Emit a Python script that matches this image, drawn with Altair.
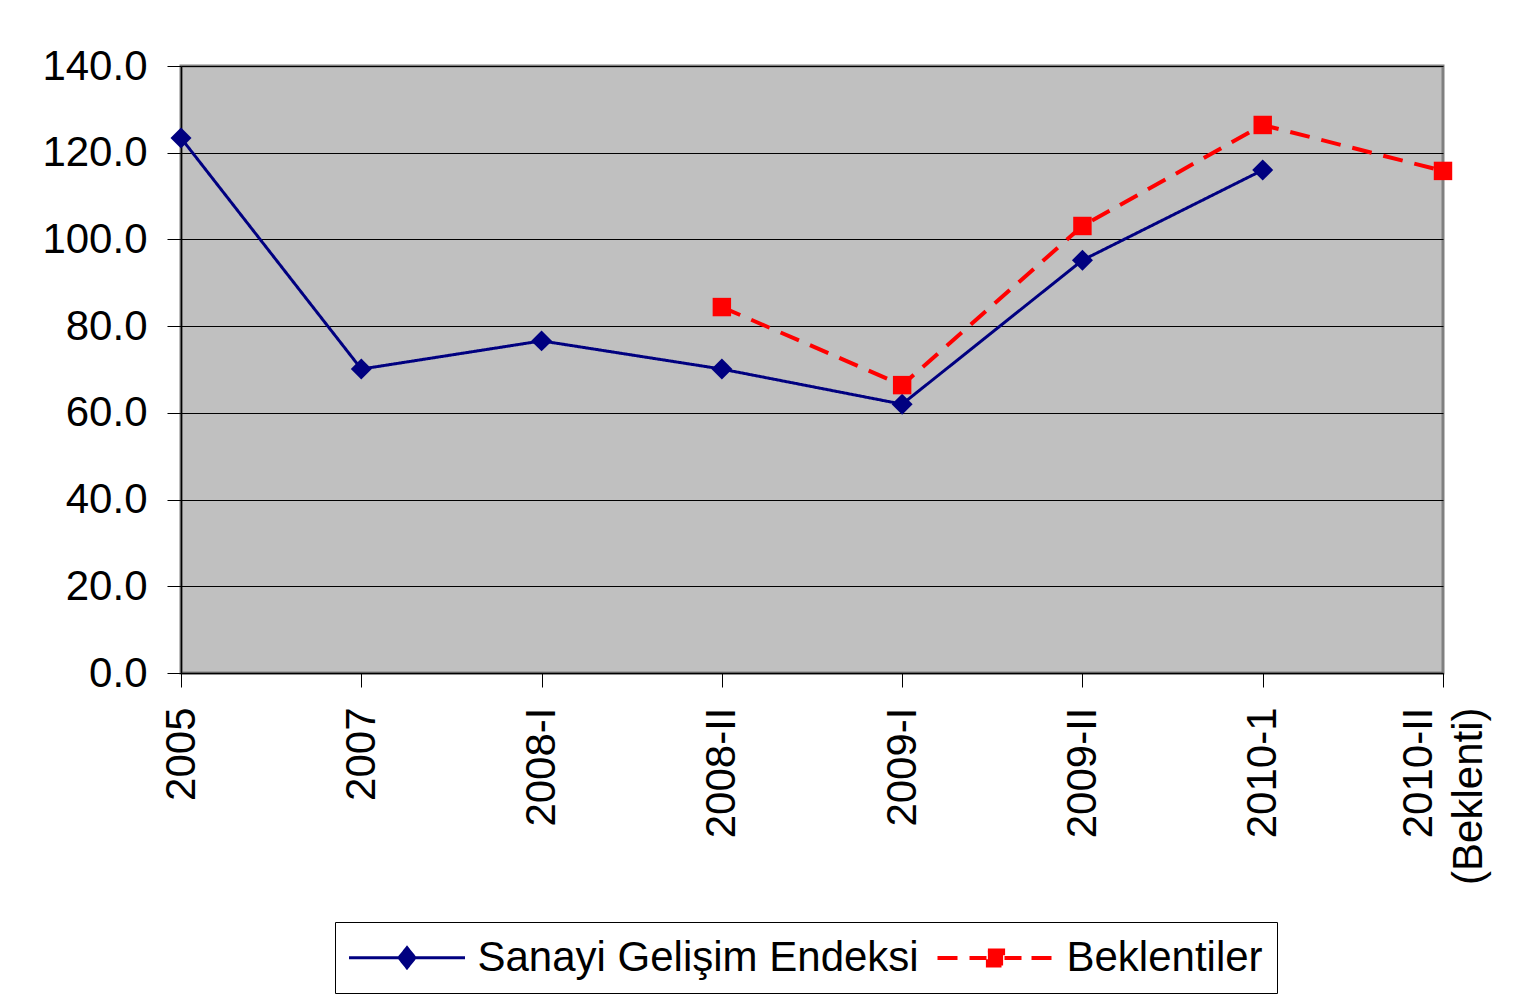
import altair as alt
import pandas as pd

categories = ["2005", "2007", "2008-I", "2008-II", "2009-I", "2009-II", "2010-1", "2010-II (Beklenti)"]
sanayi = [123.4, 70.1, 76.6, 70.1, 62.0, 95.2, 116.0, None]
beklenti = [None, None, None, 84.4, 66.4, 103.1, 126.4, 115.8]
series_names = ["Sanayi Gelişim Endeksi", "Beklentiler"]
colors = ["#000080", "#FF0000"]
y_ticks = [0, 20, 40, 60, 80, 100, 120, 140]

rows = []
for s, vals in zip(series_names, [sanayi, beklenti]):
    for i, (c, v) in enumerate(zip(categories, vals)):
        if v is not None:
            rows.append({"cat": c, "value": v, "series": s, "idx": i})
df = pd.DataFrame(rows)

FONT = "Liberation Sans"

x_enc = alt.X("cat:N", sort=categories,
              scale=alt.Scale(domain=categories, padding=0),
              axis=alt.Axis(title=None, labelAngle=270, labelFontSize=42, labelFont=FONT,
                            labelColor="black", tickSize=14, tickColor="black",
                            domainColor="black", domainWidth=1.5, labelPadding=20,
                            labelLineHeight=50,
                            labelOffset={"condition": {"test": "datum.value == '2010-II (Beklenti)'", "value": -25}, "value": 0},
                            labelExpr="datum.value == '2010-II (Beklenti)' ? ['2010-II', '(Beklenti)'] : datum.label",
                            grid=False))
y_enc = alt.Y("value:Q",
              scale=alt.Scale(domain=[0, 140], nice=False, zero=True),
              axis=alt.Axis(title=None, values=y_ticks, format=".1f", labelFontSize=42,
                            labelFont=FONT, labelColor="black", tickSize=14,
                            tickColor="black", domainColor="black", domainWidth=1.5,
                            labelPadding=20, grid=True, gridColor="black",
                            gridWidth=1, gridOpacity=1))

# legend symbols: line with marker (units scaled by sqrt(symbolSize)/2 = 20px)
path_sanayi = "M-2.9,0H2.9M0,-0.5L0.4,0L0,0.5L-0.4,0Z"
path_bekl = "M-2.9,0H-1.8M-1.3,0H-0.45M0.45,0H1.3M1.8,0H2.9M-0.38,-0.38H0.38V0.38H-0.38Z"

leg = alt.Legend(
    title=None, orient="none", legendX=154, legendY=856, direction="horizontal",
    symbolType={"expr": f"datum.value == '{series_names[1]}' ? '{path_bekl}' : '{path_sanayi}'"},
    symbolFillColor={"expr": f"datum.value == '{series_names[1]}' ? '{colors[1]}' : '{colors[0]}'"},
    symbolSize=1600, symbolStrokeWidth=3, symbolOffset=36.5,
    labelOffset=49, columnPadding=10, padding=14,
    labelFont=FONT, labelFontSize=42, labelColor="black", labelLimit=1000,
    strokeColor="black", fillColor="white",
)

lines = alt.Chart(df).mark_line().encode(
    x=x_enc, y=y_enc,
    order="idx:Q",
    color=alt.Color("series:N", scale=alt.Scale(domain=series_names, range=colors), legend=leg),
    strokeDash=alt.StrokeDash("series:N", scale=alt.Scale(domain=series_names, range=[[1, 0], [20, 12]]), legend=None),
    strokeWidth=alt.StrokeWidth("series:N", scale=alt.Scale(domain=series_names, range=[3, 4]), legend=None),
)

diamonds = alt.Chart(df).transform_filter(
    alt.datum.series == series_names[0]
).mark_point(filled=True, shape="diamond", size=440, opacity=1, color=colors[0]).encode(x=x_enc, y=y_enc)

squares = alt.Chart(df).transform_filter(
    alt.datum.series == series_names[1]
).mark_point(filled=True, shape="square", size=340, opacity=1, color=colors[1]).encode(x=x_enc, y=y_enc)

chart = alt.layer(lines, diamonds, squares).properties(
    width=1262, height=607,
    autosize=alt.AutoSizeParams(type="none"),
    padding={"left": 173, "top": 58, "right": 65, "bottom": 330},
    background="white",
    view=alt.ViewBackground(fill="#C0C0C0", stroke="#808080", strokeWidth=3),
)

chart.save("out.html", embed_options={"renderer": "svg", "actions": False})
